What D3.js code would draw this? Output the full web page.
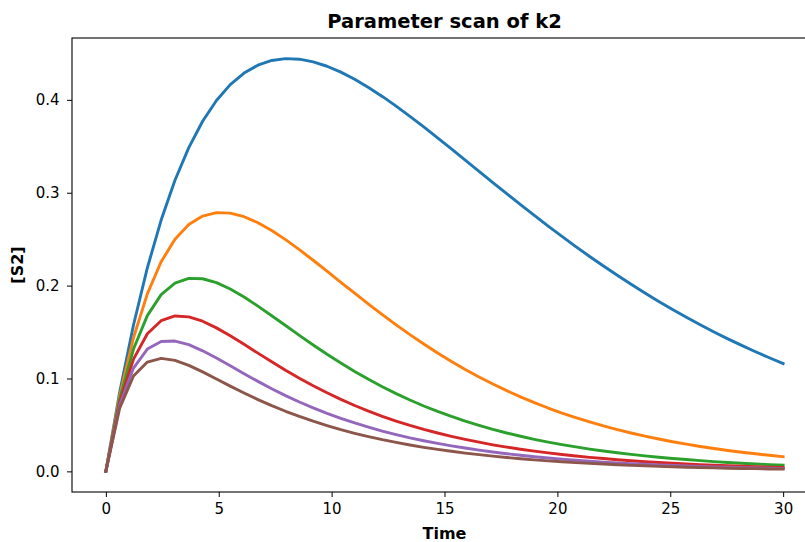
<!DOCTYPE html>
<html>
<head>
<meta charset="utf-8">
<script src="https://cdn.jsdelivr.net/npm/d3@7"></script>
<style>
  body { margin: 0; background: #fff; }
  svg { font-family: "DejaVu Sans", sans-serif; }
</style>
</head>
<body>
<svg width="805" height="542"></svg>
<script>
// time points of the scan (50 samples, 0..30)
let time = [0, 0.612, 1.224, 1.837, 2.449, 3.061, 3.673, 4.286, 4.898, 5.510,
  6.122, 6.735, 7.347, 7.959, 8.571, 9.184, 9.796, 10.408, 11.020, 11.633,
  12.245, 12.857, 13.469, 14.082, 14.694, 15.306, 15.918, 16.531, 17.143, 17.755,
  18.367, 18.980, 19.592, 20.204, 20.816, 21.429, 22.041, 22.653, 23.265, 23.878,
  24.490, 25.102, 25.714, 26.327, 26.939, 27.551, 28.163, 28.776, 29.388, 30];

let s2_a = [0, 0.0851, 0.1576, 0.2191, 0.2706, 0.3135, 0.3486, 0.3770, 0.3993, 0.4164,
  0.4289, 0.4374, 0.4424, 0.4444, 0.4438, 0.4409, 0.4362, 0.4299, 0.4222, 0.4134,
  0.4037, 0.3933, 0.3823, 0.3709, 0.3591, 0.3472, 0.3352, 0.3231, 0.3110, 0.2990,
  0.2872, 0.2756, 0.2641, 0.2530, 0.2420, 0.2314, 0.2211, 0.2111, 0.2014, 0.1920,
  0.1830, 0.1743, 0.1659, 0.1578, 0.1501, 0.1427, 0.1356, 0.1288, 0.1223, 0.1160];
let s2_b = [0, 0.0813, 0.1439, 0.1911, 0.2257, 0.2499, 0.2658, 0.2749, 0.2786, 0.2781,
  0.2742, 0.2677, 0.2593, 0.2495, 0.2387, 0.2273, 0.2155, 0.2036, 0.1918, 0.1801,
  0.1688, 0.1578, 0.1472, 0.1371, 0.1274, 0.1183, 0.1097, 0.1016, 0.0940, 0.0869,
  0.0802, 0.0740, 0.0682, 0.0628, 0.0578, 0.0532, 0.0489, 0.0450, 0.0413, 0.0379,
  0.0348, 0.0319, 0.0293, 0.0268, 0.0246, 0.0225, 0.0206, 0.0189, 0.0173, 0.0158];
let s2_c = [0, 0.0777, 0.1317, 0.1677, 0.1903, 0.2027, 0.2078, 0.2074, 0.2032, 0.1963,
  0.1877, 0.1779, 0.1676, 0.1570, 0.1464, 0.1361, 0.1261, 0.1166, 0.1076, 0.0991,
  0.0911, 0.0837, 0.0768, 0.0704, 0.0645, 0.0591, 0.0541, 0.0495, 0.0452, 0.0413,
  0.0378, 0.0345, 0.0315, 0.0288, 0.0263, 0.0240, 0.0219, 0.0200, 0.0183, 0.0167,
  0.0152, 0.0139, 0.0127, 0.0116, 0.0105, 0.0096, 0.0088, 0.0080, 0.0073, 0.0067];
let s2_d = [0, 0.0743, 0.1209, 0.1481, 0.1622, 0.1673, 0.1664, 0.1617, 0.1545, 0.1460,
  0.1368, 0.1273, 0.1180, 0.1089, 0.1003, 0.0922, 0.0846, 0.0775, 0.0709, 0.0649,
  0.0593, 0.0542, 0.0495, 0.0452, 0.0413, 0.0377, 0.0344, 0.0314, 0.0286, 0.0261,
  0.0238, 0.0218, 0.0199, 0.0181, 0.0165, 0.0151, 0.0138, 0.0125, 0.0114, 0.0104,
  0.0095, 0.0087, 0.0079, 0.0072, 0.0066, 0.0060, 0.0055, 0.0050, 0.0046, 0.0042];
let s2_e = [0, 0.0711, 0.1112, 0.1317, 0.1398, 0.1403, 0.1364, 0.1298, 0.1220, 0.1136,
  0.1051, 0.0969, 0.0890, 0.0816, 0.0747, 0.0683, 0.0625, 0.0571, 0.0521, 0.0476,
  0.0434, 0.0396, 0.0361, 0.0330, 0.0301, 0.0275, 0.0251, 0.0229, 0.0208, 0.0190,
  0.0174, 0.0158, 0.0144, 0.0132, 0.0120, 0.0110, 0.0100, 0.0091, 0.0083, 0.0076,
  0.0069, 0.0063, 0.0058, 0.0053, 0.0048, 0.0044, 0.0040, 0.0036, 0.0033, 0.0030];
let s2_f = [0, 0.0681, 0.1027, 0.1177, 0.1217, 0.1195, 0.1141, 0.1071, 0.0995, 0.0918,
  0.0844, 0.0773, 0.0708, 0.0647, 0.0591, 0.0540, 0.0493, 0.0449, 0.0410, 0.0374,
  0.0341, 0.0312, 0.0284, 0.0259, 0.0237, 0.0216, 0.0197, 0.0180, 0.0164, 0.0149,
  0.0136, 0.0124, 0.0113, 0.0104, 0.0094, 0.0086, 0.0079, 0.0072, 0.0065, 0.0060,
  0.0054, 0.0050, 0.0045, 0.0041, 0.0038, 0.0034, 0.0031, 0.0029, 0.0026, 0.0024];

let series = [s2_a, s2_b, s2_c, s2_d, s2_e, s2_f];
let colors = ['#1f77b4', '#ff7f0e', '#2ca02c', '#d62728', '#9467bd', '#8c564b'];

let xTicks = [0, 5, 10, 15, 20, 25, 30];
let yTicks = [0, 0.1, 0.2, 0.3, 0.4];

let mLeft = 72, mRight = 817, mTop = 38, mBottom = 492;

let svg = d3.select('svg');

let x = d3.scaleLinear()
  .domain([-1.5, 31.5])
  .range([mLeft, mRight]);

let yMax = d3.max(series, s => d3.max(s));
let pad = yMax * 0.05;
let y = d3.scaleLinear()
  .domain([-pad, yMax + pad])
  .range([mBottom, mTop]);

let line = d3.line()
  .x((d, i) => x(time[i]))
  .y(d => y(d));

svg.append('defs').append('clipPath')
  .attr('id', 'plot')
  .append('rect')
    .attr('x', mLeft)
    .attr('y', mTop)
    .attr('width', mRight - mLeft)
    .attr('height', mBottom - mTop);

svg.append('g')
  .attr('clip-path', 'url(#plot)')
  .selectAll('path')
  .data(series)
  .join('path')
    .attr('d', line)
    .attr('fill', 'none')
    .attr('stroke', (d, i) => colors[i])
    .attr('stroke-width', 2.9)
    .attr('stroke-linejoin', 'round')
    .attr('stroke-linecap', 'square');

// axes
let xAxis = svg.append('g')
  .attr('transform', `translate(0, ${mBottom})`)
  .call(d3.axisBottom(x).tickValues(xTicks).tickFormat(d3.format('d')).tickSize(5).tickSizeOuter(0));

let yAxis = svg.append('g')
  .attr('transform', `translate(${mLeft}, 0)`)
  .call(d3.axisLeft(y).tickValues(yTicks).tickFormat(d3.format('.1f')).tickSize(5).tickSizeOuter(0));

[xAxis, yAxis].forEach(g => {
  g.select('.domain').remove();
  g.selectAll('line').attr('stroke', '#000').attr('stroke-width', 1);
  g.selectAll('text').attr('font-size', 15).attr('fill', '#000').attr('font-family', 'DejaVu Sans');
});
xAxis.selectAll('text').attr('y', 22).attr('dy', 0);
yAxis.selectAll('text').attr('x', -12.5);

// frame
svg.append('rect')
  .attr('x', mLeft)
  .attr('y', mTop)
  .attr('width', mRight - mLeft)
  .attr('height', mBottom - mTop)
  .attr('fill', 'none')
  .attr('stroke', '#000')
  .attr('stroke-width', 1.1);

svg.append('text')
  .attr('x', (mLeft + mRight) / 2)
  .attr('y', 28)
  .attr('text-anchor', 'middle')
  .attr('font-size', 19.5)
  .attr('font-weight', 'bold')
  .text('Parameter scan of k2');

svg.append('text')
  .attr('x', (mLeft + mRight) / 2)
  .attr('y', 539)
  .attr('text-anchor', 'middle')
  .attr('font-size', 16)
  .attr('font-weight', 'bold')
  .text('Time');

svg.append('text')
  .attr('transform', `translate(23, ${(mTop + mBottom) / 2}) rotate(-90)`)
  .attr('text-anchor', 'middle')
  .attr('font-size', 16)
  .attr('font-weight', 'bold')
  .text('[S2]');
</script>
</body>
</html>
